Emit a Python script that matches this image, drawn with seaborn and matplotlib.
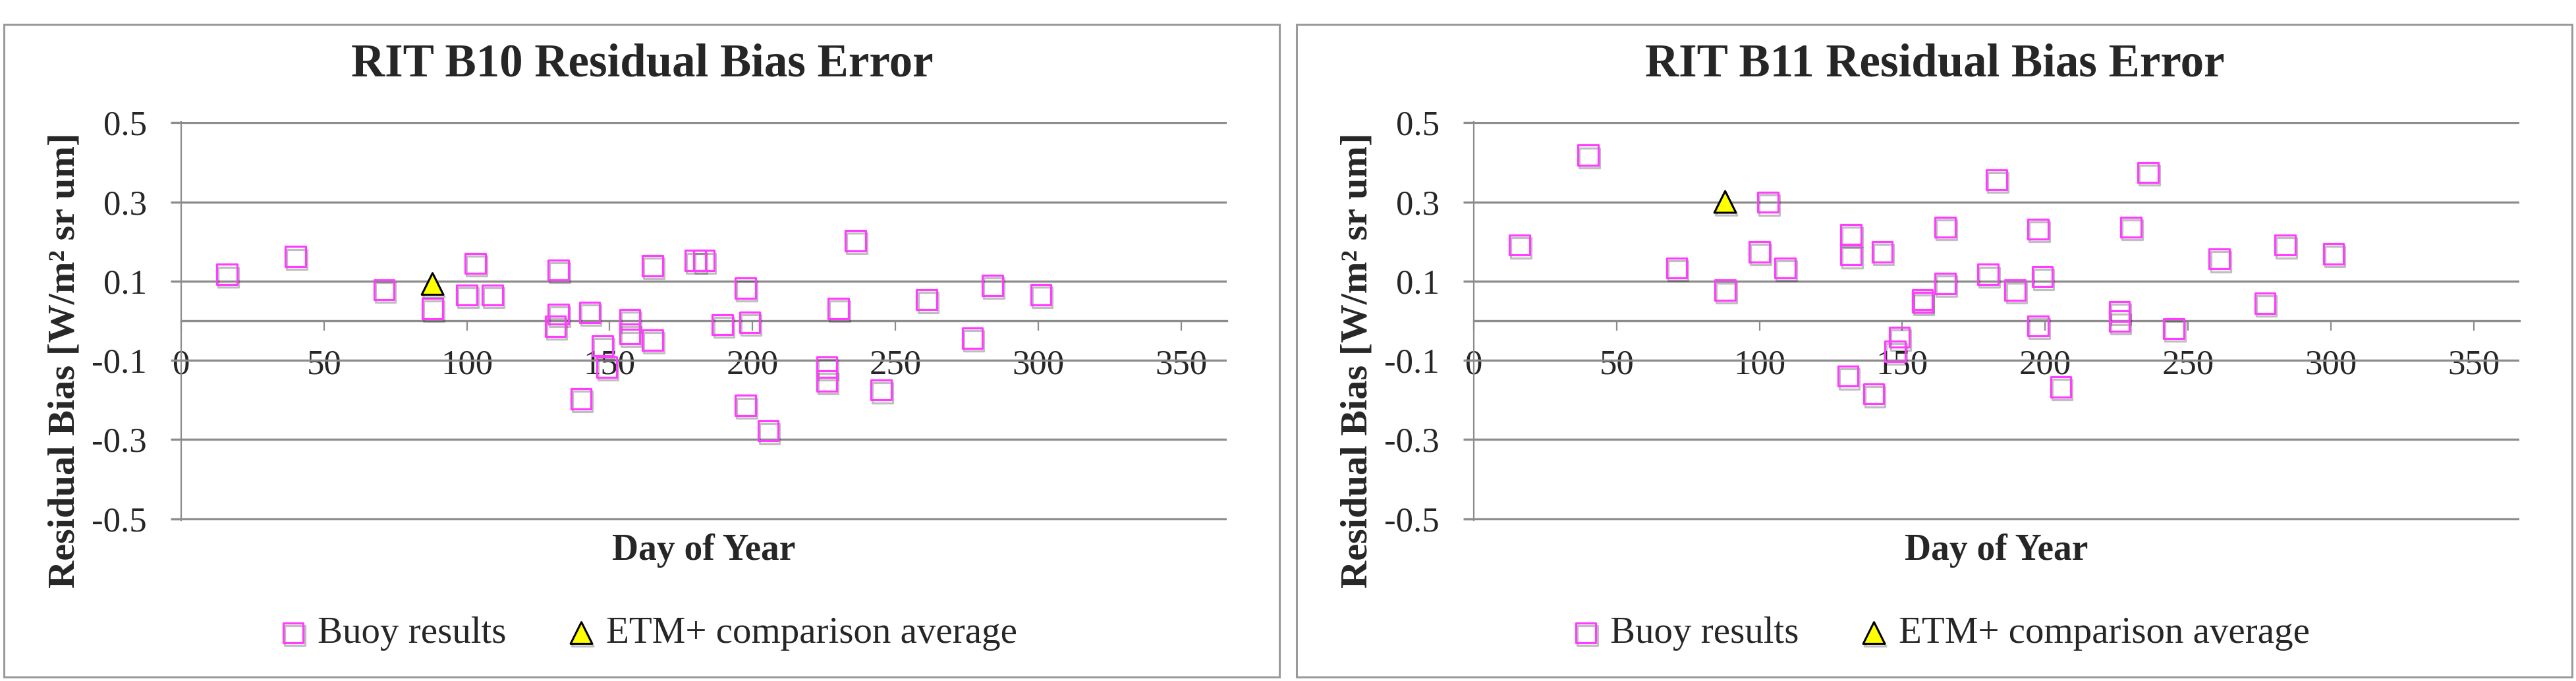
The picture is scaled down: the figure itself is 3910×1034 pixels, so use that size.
import numpy as np
import pandas as pd
import seaborn as sns
import matplotlib.pyplot as plt
import matplotlib.patheffects as pe
from matplotlib.patches import Rectangle

sns.set_style('white')
plt.rcParams['font.family'] = ['Liberation Serif', 'DejaVu Serif']
plt.rcParams['axes.unicode_minus'] = False

# day of year of each buoy overpass (same dates for both bands)
days = [16, 40, 71, 88, 100, 103, 109, 131, 132, 132, 140, 143, 147.5, 149,
        157, 157, 165, 165, 180, 183, 189.5, 197.5, 197.5, 199, 205.5,
        226, 226, 230, 236, 245, 261, 277, 284, 301]

b10_bias = [0.117, 0.162, 0.078, 0.031, 0.065, 0.145, 0.065, -0.014, 0.128, 0.017,
            -0.197, 0.021, -0.063, -0.117, 0.003, -0.033, 0.139, -0.049, 0.152, 0.152,
            -0.010, 0.082, -0.214, -0.004, -0.278, -0.117, -0.152, 0.031, 0.202, -0.175,
            0.053, -0.044, 0.089, 0.066]

b11_bias = [0.191, 0.418, 0.133, 0.077, 0.174, 0.299, 0.133, -0.140, 0.218, 0.166,
            -0.185, 0.174, -0.077, -0.042, 0.053, 0.047, 0.236, 0.094, 0.117, 0.356,
            0.077, 0.231, -0.013, 0.111, -0.167, 0.023, -0.001, 0.236, 0.374, -0.020,
            0.156, 0.044, 0.191, 0.169]

# ETM+ comparison average
etm_day = [88]
etm_b10 = [0.093]
etm_b11 = [0.300]

titles = ['RIT B10 Residual Bias Error', 'RIT B11 Residual Bias Error']
xticks = [0, 50, 100, 150, 200, 250, 300, 350]
xtick_labels = ['0', '50', '100', '150', '200', '250', '300', '350']
yticks = [0.5, 0.3, 0.1, -0.1, -0.3, -0.5]
ytick_labels = ['0.5', '0.3', '0.1', '-0.1', '-0.3', '-0.5']

W, H = 3910, 1034
fig = plt.figure(figsize=(W / 100, H / 100), dpi=100)

gray = '#8c8c8c'
pink = '#ff3cff'
shadow = [pe.SimpleLineShadow(offset=(1.5, -3), shadow_color='k', alpha=0.25),
          pe.Normal()]

panels = [(0, b10_bias, etm_b10), (1962, b11_bias, etm_b11)]

for i, (dx, bias, etm) in enumerate(panels):
    # panel frame
    fig.add_artist(Rectangle(((6 + dx) / W, 6 / H), 1936 / W, 991 / H,
                             transform=fig.transFigure, fill=False,
                             edgecolor='#9a9a9a', lw=2.2))

    ax = fig.add_axes([(275 + dx) / W, (H - 789.5) / H, 1587 / W, 605 / H])

    buoy = pd.DataFrame({'day': days, 'bias': bias})
    etm_df = pd.DataFrame({'day': etm_day, 'bias': etm})

    sns.scatterplot(data=buoy, x='day', y='bias', ax=ax, marker='s', s=480,
                    facecolors='none', edgecolor=pink, linewidth=2.3,
                    label='Buoy results', zorder=3)
    sns.scatterplot(data=etm_df, x='day', y='bias', ax=ax, marker='^', s=560,
                    color='#ffff00', edgecolor='black', linewidth=2.2,
                    label='ETM+ comparison average', zorder=4)
    for coll in ax.collections:
        coll.set_path_effects(shadow)

    ax.set_xlim(0, 366)
    ax.set_ylim(-0.503, 0.503)
    ax.set_xticks(xticks)
    ax.set_xticklabels(xtick_labels)
    ax.set_yticks(yticks)
    ax.set_yticklabels(ytick_labels)

    ax.grid(axis='y', color=gray, lw=2.4)
    ax.grid(axis='x', visible=False)
    ax.set_axisbelow(True)

    for side in ['top', 'right']:
        ax.spines[side].set_visible(False)
    ax.spines['bottom'].set_position(('data', 0))
    ax.spines['bottom'].set_color(gray)
    ax.spines['bottom'].set_linewidth(2.4)
    ax.spines['left'].set_color(gray)
    ax.spines['left'].set_linewidth(1.6)

    ax.tick_params(axis='x', direction='out', length=11, width=1.6, color=gray,
                   pad=20, labelsize=38, bottom=True)
    ax.tick_params(axis='y', direction='out', length=11.5, width=2.4, color=gray,
                   pad=26, labelsize=38, left=True)

    ax.set_xlabel('Day of Year', fontsize=40, fontweight='bold')
    ax.xaxis.set_label_coords(0.5, -0.034)
    ax.set_ylabel('Residual Bias [W/m² sr um]', fontsize=42, fontweight='bold')
    ax.yaxis.set_label_coords(-0.095, 0.40)

    fig.text((975 + dx) / W, 1 - 115 / H, titles[i], ha='center', va='baseline',
             fontsize=51, fontweight='bold')

    ax.legend(loc='center', bbox_to_anchor=((983 + dx) / W, 1 - 962 / H),
              bbox_transform=fig.transFigure, ncol=2, frameon=False,
              fontsize=41, handletextpad=0.25, columnspacing=1.6,
              handlelength=0.8, borderpad=0)

fig.savefig('out.png', dpi=100, facecolor='white')
